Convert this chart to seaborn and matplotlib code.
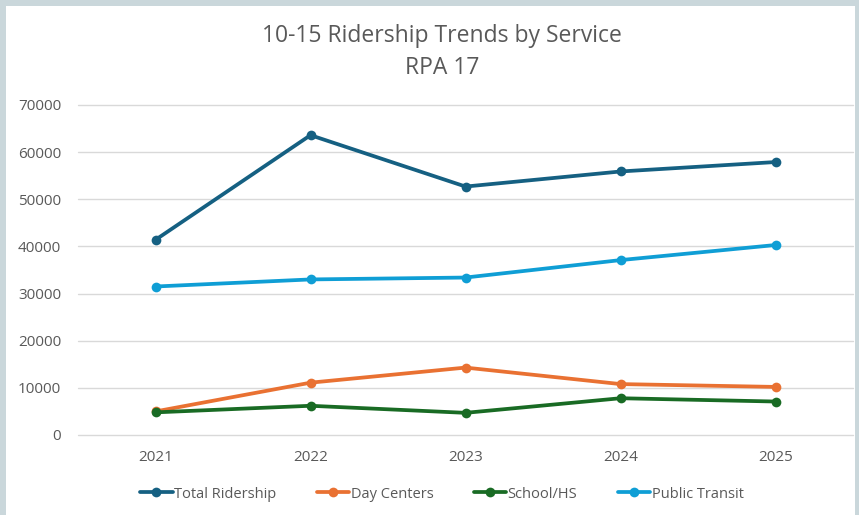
import matplotlib
matplotlib.use("Agg")
import matplotlib.pyplot as plt
import seaborn as sns
import pandas as pd
from matplotlib.patches import Rectangle

years = ["2021", "2022", "2023", "2024", "2025"]
total_ridership = [41400, 63600, 52700, 55900, 57900]
day_centers = [5000, 11100, 14300, 10800, 10200]
school_hs = [4800, 6200, 4700, 7800, 7100]
public_transit = [31500, 33000, 33400, 37100, 40300]
series_names = ["Total Ridership", "Day Centers", "School/HS", "Public Transit"]
colors = ["#156082", "#E97132", "#196B24", "#0F9ED5"]
yticks = [0, 10000, 20000, 30000, 40000, 50000, 60000, 70000]

rows = []
for name, vals in zip(series_names, [total_ridership, day_centers, school_hs, public_transit]):
    for i, (yr, v) in enumerate(zip(years, vals)):
        rows.append({"Year": yr, "idx": i, "Service": name, "Riders": v})
df = pd.DataFrame(rows)

sns.set_theme(style="white")
plt.rcParams['font.family'] = ['Open Sans', 'DejaVu Sans']

fig = plt.figure(figsize=(8.59, 5.15), dpi=100)
fig.patch.set_facecolor("#CAD7DB")
fig.patches.append(Rectangle((6/859, 0), (855-6)/859, (515-6)/515, transform=fig.transFigure,
                             facecolor="white", edgecolor="none", zorder=-5))

ax = fig.add_axes([78/859, (515-435)/515, (853-78)/859, 330/515])
ax.set_facecolor("none")
sns.lineplot(data=df, x="idx", y="Riders", hue="Service", hue_order=series_names,
             palette=colors, marker="o", markersize=7, markeredgewidth=0,
             linewidth=2.7, ax=ax, legend=False)

ax.set_xlim(-0.5, 4.5)
ax.set_ylim(0, 70000)
ax.set_yticks(yticks)
ax.set_yticklabels([str(t) for t in yticks])
ax.set_xticks(range(len(years)))
ax.set_xticklabels(years)
ax.grid(axis="y", color="#D9D9D9", linewidth=1)
for gl in ax.get_ygridlines():
    gl.set_clip_on(False)
ax.set_axisbelow(True)
for s in ax.spines.values():
    s.set_visible(False)
ax.tick_params(axis="both", length=0, colors="#595959", labelsize=11)
ax.tick_params(axis="y", pad=12)
ax.tick_params(axis="x", pad=11)
ax.set_xlabel("")
ax.set_ylabel("")

fig.text(442/859, 1 - 36/515, "10-15 Ridership Trends by Service", ha="center", va="center",
         fontsize=16.5, color="#595959")
fig.text(442/859, 1 - 68/515, "RPA 17", ha="center", va="center",
         fontsize=16.5, color="#595959")

handles = [plt.Line2D([0], [0], color=c, marker="o", markersize=7, linewidth=2.7, markeredgewidth=0)
           for c in colors]
fig.legend(handles, series_names, loc="center", bbox_to_anchor=(442/859, 1 - 494/515), ncol=4,
           frameon=False, fontsize=10.5, labelcolor="#595959", handlelength=2.2,
           handletextpad=0.1, columnspacing=2.8)

fig.savefig("out.png", dpi=100)
